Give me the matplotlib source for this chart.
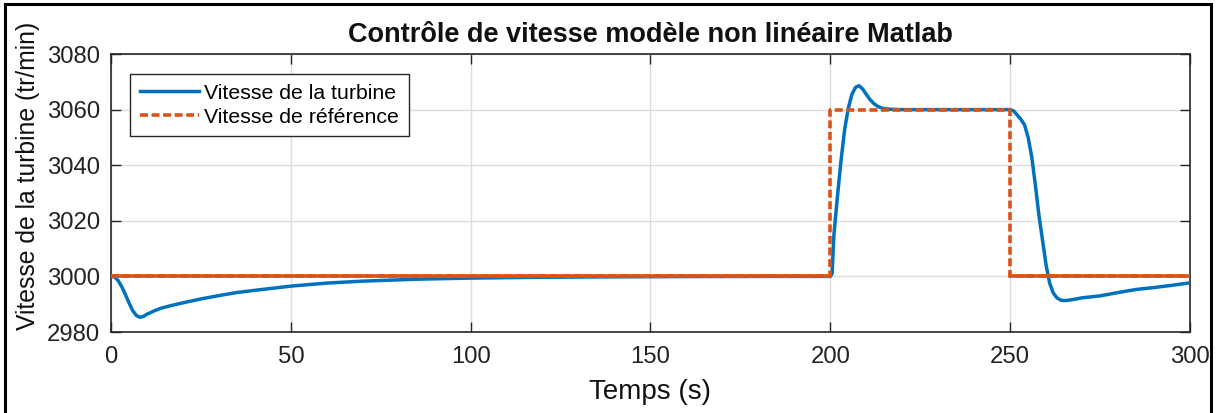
import matplotlib.pyplot as plt
from matplotlib.patches import Rectangle

plt.rcParams['font.family'] = ['Liberation Sans', 'DejaVu Sans']

# turbine speed response (s, tr/min)
turbine_t = [0, 1, 2, 3, 4, 5, 6, 7, 8, 9, 10, 12, 14, 17, 20, 25, 30, 35, 40,
             50, 60, 70, 85, 100, 120, 140, 160, 180, 200, 200.5, 201, 202, 203,
             204, 205, 206, 207, 208, 209, 210, 211, 212, 213, 214, 215, 217,
             220, 230, 240, 250, 251, 252, 253, 254, 255, 256, 257, 258, 259,
             260, 261, 262, 263, 264, 265, 266, 268, 270, 275, 280, 285, 290,
             295, 300]
turbine_v = [3000, 2999.8, 2998.5, 2996.3, 2993.5, 2990.5, 2987.8, 2986.0,
             2985.3, 2985.6, 2986.4, 2987.6, 2988.6, 2989.6, 2990.5, 2991.9,
             2993.1, 2994.2, 2995.0, 2996.5, 2997.6, 2998.3, 2999.0, 2999.4,
             2999.7, 2999.85, 2999.95, 3000, 3000, 3001, 3015, 3029, 3042,
             3053, 3060.5, 3065.5, 3068, 3068.6, 3067.4, 3065.5, 3063.7, 3062.3,
             3061.3, 3060.7, 3060.3, 3060.1, 3060, 3060, 3060, 3060, 3059.5,
             3058, 3056.5, 3054.5, 3050, 3043, 3033, 3022, 3013, 3004, 2997.5,
             2994, 2992.3, 2991.5, 2991.3, 2991.4, 2991.8, 2992.3, 2993.0,
             2994.2, 2995.3, 2996.0, 2996.8, 2997.7]

# reference speed
ref_t = [0, 200, 200, 250, 250, 300]
ref_v = [3000, 3000, 3060, 3060, 3000, 3000]

x_ticks = [0, 50, 100, 150, 200, 250, 300]
y_ticks = [2980, 3000, 3020, 3040, 3060, 3080]

blue = '#0072BD'
orange = '#D95319'
axcol = '#262626'

fig = plt.figure(figsize=(12.21, 4.13), dpi=100)
ax = fig.add_axes([0.0909, 0.1961, 0.8837, 0.6731])

ax.plot(turbine_t, turbine_v, color=blue, lw=2.5,
        label='Vitesse de la turbine', zorder=3)
ax.plot(ref_t, ref_v, color=orange, lw=2.6, linestyle=(0, (2.2, 1.0)),
        label='Vitesse de référence', zorder=4)
# the flat 3000 parts render as a continuous line
ax.plot(ref_t[:2], ref_v[:2], color=orange, lw=2.6, zorder=4)
ax.plot(ref_t[-2:], ref_v[-2:], color=orange, lw=2.6, zorder=4)

ax.set_xlim(0, 300)
ax.set_ylim(2980, 3080)
ax.set_xticks(x_ticks)
ax.set_yticks(y_ticks)
ax.grid(True, color='#dcdcdc', lw=1.0)
ax.set_axisbelow(True)
ax.tick_params(direction='in', length=7, width=1.0, colors=axcol,
               labelcolor='#222222', labelsize=17.2, top=True, right=True)
ax.tick_params(axis='x', pad=10)
ax.tick_params(axis='y', pad=8)
for s in ax.spines.values():
    s.set_color(axcol)
    s.set_linewidth(1.2)

ax.set_xlabel('Temps (s)', fontsize=20, color='#111111', labelpad=8)
ax.set_ylabel('Vitesse de la turbine (tr/min)', fontsize=17.8, color='#111111')
ax.yaxis.set_label_coords(-0.066, 0.56)
ax.set_title('Contrôle de vitesse modèle non linéaire Matlab', fontsize=19.5,
             fontweight='bold', color='#111111', pad=9)

leg = ax.legend(loc='upper left', bbox_to_anchor=(0.0176, 0.928),
                borderaxespad=0, fontsize=15.3, handlelength=2.8,
                handletextpad=0.25, borderpad=0.45, labelspacing=0.25,
                fancybox=False, edgecolor=axcol, framealpha=1)
leg.get_frame().set_linewidth(1.0)

# outer frame around the figure
fig.patches.append(Rectangle((5 / 1221, -0.05), 1206 / 1221, 1.05 - 4 / 413,
                             transform=fig.transFigure, fill=False,
                             edgecolor='black', lw=2.2))

fig.savefig('out.png', dpi=100)
